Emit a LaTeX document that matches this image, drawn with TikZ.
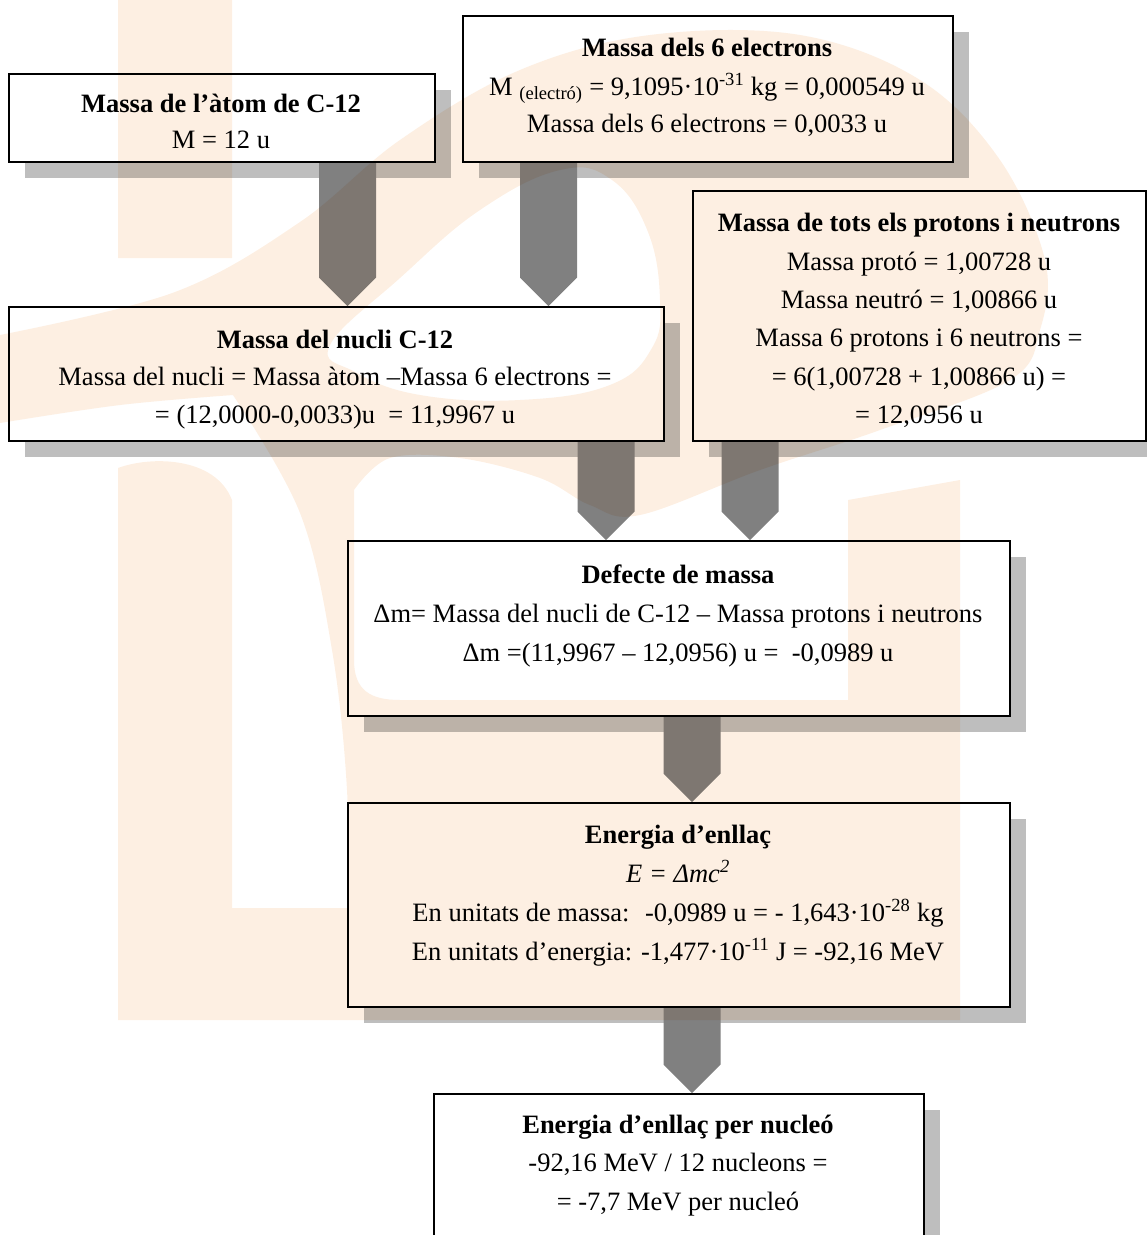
\documentclass[tikz,border=0pt]{standalone}
\usepackage{fontspec}
\setmainfont{Liberation Serif}
\usetikzlibrary{shadows}
\definecolor{shadowgray}{HTML}{BEBEBE}
\definecolor{arrowgray}{HTML}{808080}
\definecolor{logopeach}{HTML}{FDEFE2}
\tikzset{
  card/.style={draw=black, line width=2pt, fill=white, inner sep=0pt, anchor=north west,
    drop shadow={shadow xshift=16pt, shadow yshift=-16pt, fill=shadowgray, opacity=1}},
  linetext/.style={anchor=base, inner sep=0pt, font=\fontsize{26.5}{32}\selectfont},
  headtext/.style={linetext, font=\fontsize{26.5}{32}\selectfont\bfseries},
  blockarrow/.style={fill=arrowgray},
  logo/.style={fill=logopeach, even odd rule},
}
% block arrow: #1 centre x, #2 source node, #3 target node, #4 helper coordinate
\newcommand{\flowarrow}[4]{%
  \coordinate (#4) at (#1,0);
  \fill[blockarrow] ([xshift=-28.5pt]#4 |- #2.south) -- ([xshift=28.5pt]#4 |- #2.south)
     -- ([xshift=28.5pt,yshift=28.5pt]#4 |- #3.north) -- (#4 |- #3.north)
     -- ([xshift=-28.5pt,yshift=28.5pt]#4 |- #3.north) -- cycle;}
\begin{document}
\begin{tikzpicture}[x=1pt,y=-1pt]
\useasboundingbox (0,0) rectangle (1147,1235);
\clip (0,0) rectangle (1147,1235);

% boxes
\node[card, minimum width=426pt, minimum height=88pt] (atom) at (8,73) {};
\node[card, minimum width=490pt, minimum height=146pt] (elec) at (462,15) {};
\node[card, minimum width=453pt, minimum height=250pt] (nucl) at (692,190) {};
\node[card, minimum width=655pt, minimum height=134pt] (core) at (8,306) {};
\node[card, minimum width=662pt, minimum height=175pt] (defect) at (347,540) {};
\node[card, minimum width=662pt, minimum height=204pt] (bind) at (347,802) {};
\node[card, minimum width=490pt, minimum height=170pt] (pernuc) at (433,1093) {};

% connectors
\flowarrow{347.5}{atom}{core}{ax1}
\flowarrow{548.5}{elec}{core}{ax2}
\flowarrow{606}{core}{defect}{ax3}
\flowarrow{750}{nucl}{defect}{ax4}
\flowarrow{692}{defect}{bind}{ax5}
\flowarrow{692}{bind}{pernuc}{ax6}

% texts
\node[headtext] (t1a) at (221,112) {Massa de l’àtom de C-12};
\node[linetext] (t1b) at (221,148) {M = 12 u};

\node[headtext] (t2a) at (707,56) {Massa dels 6 electrons};
\node[linetext] (t2b) at (707,95) {M \textsubscript{(electró)} = 9,1095·10\textsuperscript{-31} kg = 0,000549 u};
\node[linetext] (t2c) at (707,132) {Massa dels 6 electrons = 0,0033 u};

\node[headtext] (t3a) at (919,231) {Massa de tots els protons i neutrons};
\node[linetext] (t3b) at (919,270) {Massa protó = 1,00728 u};
\node[linetext] (t3c) at (919,308) {Massa neutró = 1,00866 u};
\node[linetext] (t3d) at (919,346) {Massa 6 protons i 6 neutrons =};
\node[linetext] (t3e) at (919,385) {= 6(1,00728 + 1,00866 u) =};
\node[linetext] (t3f) at (919,423) {= 12,0956 u};

\node[headtext] (t4a) at (335,348) {Massa del nucli C-12};
\node[linetext] (t4b) at (335,385) {Massa del nucli = Massa àtom –Massa 6 electrons =};
\node[linetext] (t4c) at (335,423) {= (12,0000-0,0033)u~ = 11,9967 u};

\node[headtext] (t5a) at (678,583) {Defecte de massa};
\node[linetext] (t5b) at (678,622) {Δm= Massa del nucli de C-12 – Massa protons i neutrons};
\node[linetext] (t5c) at (678,661) {Δm =(11,9967 – 12,0956) u = ~-0,0989 u};

\node[headtext] (t6a) at (678,843) {Energia d’enllaç};
\node[linetext] (t6b) at (678,882) {\textit{E = Δmc\textsuperscript{2}}};
\node[linetext] (t6c) at (678,921) {En unitats de massa: ~-0,0989 u = - 1,643·10\textsuperscript{-28} kg};
\node[linetext] (t6d) at (678,960) {En unitats d’energia: -1,477·10\textsuperscript{-11} J = -92,16 MeV};

\node[headtext] (t7a) at (678,1133) {Energia d’enllaç per nucleó};
\node[linetext] (t7b) at (678,1171) {-92,16 MeV / 12 nucleons =};
\node[linetext] (t7c) at (678,1210) {= -7,7 MeV per nucleó};

% background emblem (L, S and I letters), laid over everything in multiply mode
\begin{scope}[blend mode=multiply]
  \fill[logo]
    % top of the L stem
    (118,0) rectangle (232,258)
    % S swash, S body, L foot and I stem as one outline
    (0,335) -- plot[smooth, tension=0.6] coordinates {(0,335) (175,292) (300,222) (400,140)
        (520,70) (650,35) (800,35) (920,80) (1000,160) (1045,260) (1040,330) (1010,380)
        (880,430) (760,470) (640,515) (590,505) (540,478) (460,458) (390,458) (354,490)}
    -- (354,660) .. controls (354,690) and (370,700) .. (400,700)
    -- (848,700) -- (848,500) -- (960,480) -- (960,1020) -- (118,1020)
    -- (118,468) .. controls (150,456) and (215,456) .. (232,500)
    -- (232,908) -- (347,908)
    -- plot[smooth, tension=0.6] coordinates {(347,908) (347,790) (332,650) (300,513) (233,395)}
    -- plot[smooth, tension=0.6] coordinates {(233,395) (120,405) (0,423)} -- cycle
    % upper counter of the S
    plot[smooth cycle, tension=0.7] coordinates {(330,345) (400,278) (480,210) (560,170)
        (612,180) (648,232) (660,300) (652,348) (610,385) (520,400) (420,395) (355,372)};
\end{scope}
\end{tikzpicture}
\end{document}
